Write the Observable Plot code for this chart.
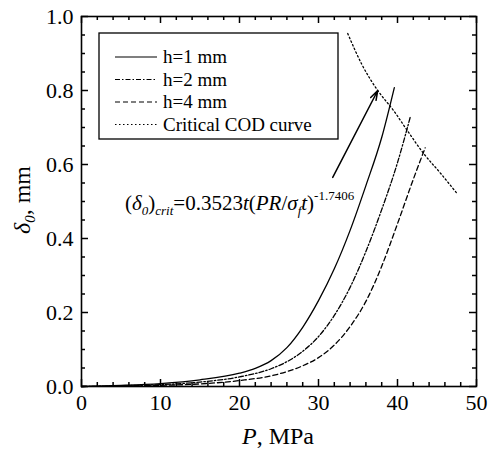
<!DOCTYPE html>
<html><head><meta charset="utf-8">
<script src="https://cdn.jsdelivr.net/npm/d3@7"></script>
<script src="https://cdn.jsdelivr.net/npm/@observablehq/plot@0.6"></script>
<style>body{margin:0;background:#fff} svg{display:block}</style>
</head><body><div id="chart"></div>
<script>
// h = 1 mm
const h1P = [0, 5, 10, 15, 20, 22, 24, 26, 28, 30, 32, 34, 36, 38, 39.6];
const h1D = [0, 0.003, 0.008, 0.018, 0.036, 0.049, 0.07, 0.105, 0.16, 0.232, 0.318, 0.422, 0.543, 0.673, 0.808];
// h = 2 mm
const h2P = [0, 5, 10, 15, 20, 24, 26, 28, 30, 32, 34, 36, 38, 40, 41.6];
const h2D = [0, 0.002, 0.005, 0.012, 0.026, 0.048, 0.067, 0.095, 0.135, 0.192, 0.268, 0.365, 0.478, 0.605, 0.727];
// h = 4 mm
const h4P = [0, 5, 10, 15, 20, 25, 28, 30, 32, 34, 36, 38, 40, 42, 43.5];
const h4D = [0, 0.001, 0.003, 0.007, 0.016, 0.034, 0.056, 0.078, 0.112, 0.162, 0.23, 0.325, 0.44, 0.56, 0.645];
// critical COD curve
const critP = [33.7, 35.5, 37.5, 39.5, 41.3, 43.3, 45.5, 47.6];
const critD = [0.954, 0.87, 0.80, 0.746, 0.69, 0.63, 0.575, 0.52];
// annotation arrow (from, to)
const arrowP = [31.8, 37.5];
const arrowD = [0.565, 0.80];

const xMajor = [0, 10, 20, 30, 40, 50];
const xMinor = d3.range(0, 50.01, 2).filter(v => v % 10 !== 0);
const yMajor = [0, 0.2, 0.4, 0.6, 0.8, 1.0];
const yMinor = d3.range(0, 1.001, 0.05).map(v => +v.toFixed(2)).filter(v => Math.abs(v / 0.2 - Math.round(v / 0.2)) > 1e-6);

const legendLabels = ["h=1 mm", "h=2 mm", "h=4 mm", "Critical COD curve"];
const dashes = [null, "5,2,1.5,2", "5,3", "1.5,2.5"];

const toRows = (P, D) => P.map((p, i) => ({P: p, D: D[i]}));
const series = [toRows(h1P, h1D), toRows(h2P, h2D), toRows(h4P, h4D), toRows(critP, critD)];

const W = 488, H = 451, ML = 81, MR = 12, MT = 16, MB = 65;
const X0 = 0, X1 = 50, Y0 = 0, Y1 = 1;
const ux = (X1 - X0) / (W - ML - MR);   // data units per pixel
const uy = (Y1 - Y0) / (H - MT - MB);
const FONT = "Liberation Serif, Times New Roman, serif";

const tickMarks = [];
function addTicks(data, side, len) {
  const o = {stroke: "black", strokeWidth: 1.5};
  if (side === "bottom") tickMarks.push(Plot.ruleX(data, {...o, x: d => d, y1: Y0, y2: Y0 + len * uy}));
  else if (side === "top") tickMarks.push(Plot.ruleX(data, {...o, x: d => d, y1: Y1, y2: Y1 - len * uy}));
  else if (side === "left") tickMarks.push(Plot.ruleY(data, {...o, y: d => d, x1: X0, x2: X0 + len * ux}));
  else tickMarks.push(Plot.ruleY(data, {...o, y: d => d, x1: X1, x2: X1 - len * ux}));
}
["bottom", "top", "left", "right"].forEach(side => {
  const vertical = side === "bottom" || side === "top";
  addTicks(vertical ? xMajor : yMajor, side, 7);
  addTicks(vertical ? xMinor : yMinor, side, 4);
});

const plot = Plot.plot({
  width: W, height: H,
  marginLeft: ML, marginRight: MR, marginTop: MT, marginBottom: MB,
  style: {fontFamily: FONT, background: "white", color: "black"},
  x: {domain: [X0, X1]},
  y: {domain: [Y0, Y1]},
  marks: [
    ...series.map((s, i) => Plot.line(s, {x: "P", y: "D", stroke: "black", strokeWidth: 1.3,
      strokeDasharray: dashes[i], curve: "monotone-x"})),
    Plot.arrow([0], {x1: () => arrowP[0], y1: () => arrowD[0], x2: () => arrowP[1], y2: () => arrowD[1],
      stroke: "black", strokeWidth: 1.5, headLength: 10, headAngle: 35}),
    ...tickMarks,
    Plot.frame({stroke: "black", strokeWidth: 1.6}),
    Plot.axisX({ticks: xMajor, tickSize: 0, tickPadding: 8, fontSize: 22, label: null, tickFormat: d => String(d)}),
    Plot.axisY({ticks: yMajor, tickSize: 0, tickPadding: 8, fontSize: 22, label: null, tickFormat: d3.format(".1f")})
  ]
});

document.getElementById("chart").appendChild(plot);
const svg = d3.select(plot);

function rich(g, x, y, parts, size, anchor, transform) {
  const t = g.append("text").attr("x", x).attr("y", y).attr("font-size", size)
    .attr("font-family", FONT).attr("fill", "black").attr("text-anchor", anchor || "start");
  if (transform) t.attr("transform", transform);
  parts.forEach(p => {
    const s = t.append("tspan").text(p.t);
    if (p.i) s.attr("font-style", "italic");
    if (p.s) s.attr("font-size", p.s);
    if (p.dy) s.attr("dy", p.dy);
  });
  return t;
}

// legend
const lg = svg.append("g");
lg.append("rect").attr("x", 99).attr("y", 33).attr("width", 239).attr("height", 106)
  .attr("fill", "white").attr("stroke", "black").attr("stroke-width", 1.3);
legendLabels.forEach((lab, i) => {
  const y = 57 + i * 22.5;
  lg.append("line").attr("x1", 115).attr("x2", 157).attr("y1", y).attr("y2", y)
    .attr("stroke", "black").attr("stroke-width", 1.2).attr("stroke-dasharray", dashes[i]);
  lg.append("text").attr("x", 163).attr("y", y + 6).attr("font-family", FONT).attr("font-size", 19)
    .attr("text-anchor", "start").attr("fill", "black").text(lab);
});

// formula
rich(svg, 125, 210, [
  {t: "("}, {t: "δ", i: 1}, {t: "0", i: 1, s: 13, dy: 5}, {t: ")", dy: -5},
  {t: "crit", i: 1, s: 13, dy: 5}, {t: "=0.3523", dy: -5}, {t: "t", i: 1}, {t: "("},
  {t: "PR", i: 1}, {t: "/"}, {t: "σ", i: 1}, {t: "f", i: 1, s: 13, dy: 5}, {t: "t", i: 1, dy: -5},
  {t: ")"}, {t: "-1.7406", s: 13, dy: -10}
], 21);

// axis titles
rich(svg, 278, 444, [{t: "P", i: 1}, {t: ", MPa"}], 24, "middle");
rich(svg, 0, 0, [{t: "δ", i: 1}, {t: "0", i: 1, s: 15, dy: 5}, {t: ", mm", dy: -5}], 24, "middle",
  "translate(30,200) rotate(-90)");
</script></body></html>
